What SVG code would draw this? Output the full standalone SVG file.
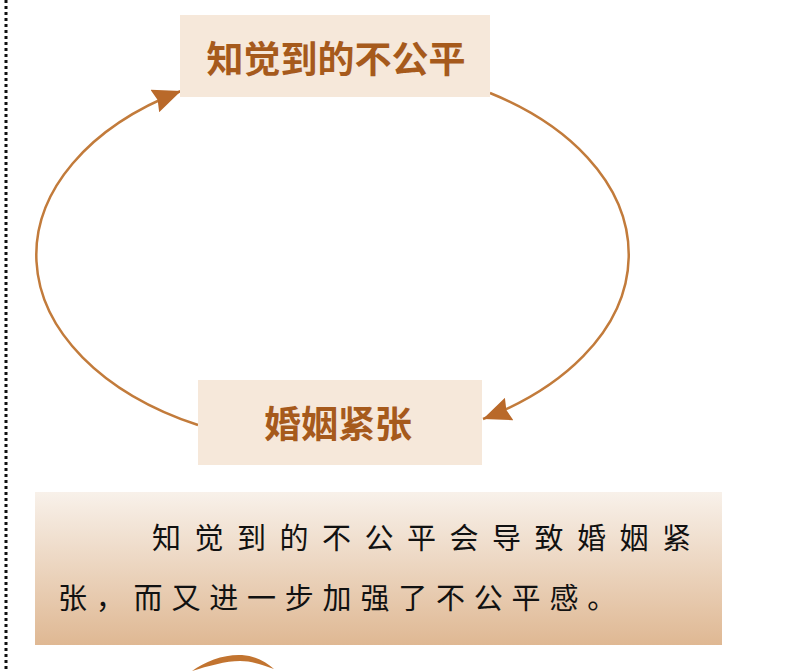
<svg xmlns="http://www.w3.org/2000/svg" width="800" height="672" viewBox="0 0 800 672">
<style>
.box{fill:#f6e8da}
.node{font-family:"Noto Sans CJK SC","Noto Sans",sans-serif;font-weight:bold;font-size:37px;fill:#a65a1c;text-anchor:middle;dominant-baseline:central}
.conn{fill:none;stroke:#c27b3b;stroke-width:2.5}
.cap{font-family:"Noto Sans CJK SC","Noto Sans",sans-serif;font-size:29px;fill:#111}
.l1{letter-spacing:13.5px}
.l2{letter-spacing:8.8px}
</style>
<defs>
<marker id="arr" markerWidth="30" markerHeight="24" refX="28" refY="12" orient="auto" markerUnits="userSpaceOnUse">
<path d="M0,0 L28,12 L0,24 L3,12 Z" fill="#b9692a"/>
</marker>
<linearGradient id="capg" x1="0" y1="0" x2="0" y2="1">
<stop offset="0" stop-color="#f8f1ea"/>
<stop offset="1" stop-color="#dfb893"/>
</linearGradient>
</defs>
<rect width="800" height="672" fill="#ffffff"/>
<line x1="6" y1="0" x2="6" y2="672" stroke="#111" stroke-width="3" stroke-dasharray="3,3"/>
<g id="connectors">
<path class="conn" d="M198,425 A297,191 0 0 1 181,91" marker-end="url(#arr)"/>
<path class="conn" d="M490,93 A297,191 0 0 1 483,419" marker-end="url(#arr)"/>
</g>
<g id="node-top">
<rect class="box" x="180" y="15" width="310" height="82"/>
<text class="node" x="336" y="57">知觉到的不公平</text>
</g>
<g id="node-bottom">
<rect class="box" x="198" y="380" width="284" height="85"/>
<text class="node" x="338" y="422">婚姻紧张</text>
</g>
<g id="caption">
<rect x="35" y="492" width="687" height="153" fill="url(#capg)"/>
<text class="cap l1" x="152" y="549">知觉到的不公平会导致婚姻紧</text>
<text class="cap l2" x="58" y="609">张，而又进一步加强了不公平感。</text>
</g>
<path d="M192,671 C205,661 225,654 242,655 C256,656 266,662 274,669 C262,665 252,661 240,661 C226,661 208,666 192,671 Z" fill="#c27430"/>
</svg>
